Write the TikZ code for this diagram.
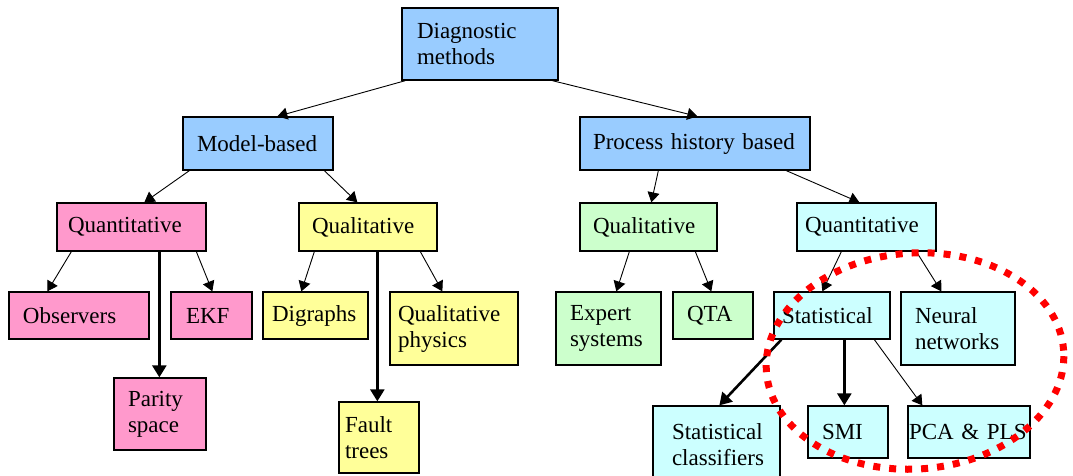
\documentclass[tikz,border=0pt]{standalone}
\usepackage{fontspec}
\setmainfont{Liberation Serif}
\usetikzlibrary{arrows.meta}

\definecolor{cblue}{RGB}{153,204,255}
\definecolor{cpink}{RGB}{255,153,204}
\definecolor{cyellow}{RGB}{255,255,153}
\definecolor{cgreen}{RGB}{204,255,204}
\definecolor{ccyan}{RGB}{204,255,255}

% box: name, x1, y1, x2, y2, fill, left padding, text
\newcommand\mybox[8]{%
  \pgfmathsetmacro\bw{#4-#2}%
  \pgfmathsetmacro\bh{#5-#3}%
  \pgfmathsetmacro\tw{#4-#2-2*#7}%
  \node[box, fill=#6, minimum width=\bw pt, minimum height=\bh pt,
        inner xsep=#7pt, text width=\tw pt] (#1) at ({(#2+#4)/2},{(#3+#5)/2}) {#8};}

\begin{document}
\begin{tikzpicture}[x=1pt, y=-1pt,
  box/.style={draw=black, line width=1.3pt, inner ysep=0pt, align=left,
    font=\fontsize{23}{26}\selectfont},
  arr/.style={line width=0.9pt, -{Triangle[width=12pt,length=10pt]}},
  thick arr/.style={line width=2.6pt, -{Triangle[width=14pt,length=12pt]}},
  redring/.style={draw=red, line width=7pt, dash pattern=on 7pt off 9pt}]
\useasboundingbox (0,0) rectangle (1073,475);

% top levels
\mybox{dm}{402}{8}{558}{80}{cblue}{15}{Diagnostic\\methods}
\mybox{mb}{183}{117}{333}{170}{cblue}{14}{Model-based}
\mybox{ph}{580}{117}{810}{170}{cblue}{13}{Process history based}

% third level
\mybox{qn1}{57}{203}{206}{251}{cpink}{11}{Quantitative}
\mybox{ql1}{299}{203}{437}{251}{cyellow}{13}{Qualitative}
\mybox{ql2}{580}{203}{717}{251}{cgreen}{13}{Qualitative}
\mybox{qn2}{797}{203}{936}{251}{ccyan}{8}{Quantitative}

% leaves, model-based
\mybox{obs}{9}{292}{149}{339}{cpink}{14}{Observers}
\mybox{ekf}{171}{292}{252}{339}{cpink}{15}{EKF}
\mybox{par}{114}{378}{206}{450}{cpink}{14}{Parity\\space}
\mybox{dig}{263}{292}{368}{339}{cyellow}{9}{Digraphs}
\mybox{qph}{390}{292}{518}{365}{cyellow}{8}{Qualitative\\physics}
\mybox{flt}{339}{402}{419}{473}{cyellow}{6}{Fault\\trees}

% leaves, process history based
\mybox{exp}{556}{292}{661}{365}{cgreen}{14}{Expert\\systems}
\mybox{qta}{673}{292}{753}{339}{cgreen}{14}{QTA}
\mybox{sta}{774}{292}{890}{339}{ccyan}{8}{Statistical}
\mybox{nn}{901}{292}{1015}{365}{ccyan}{14}{Neural\\networks}
\mybox{scl}{653}{406}{780}{484}{ccyan}{19}{Statistical\\classifiers}
\mybox{smi}{808}{406}{888}{458}{ccyan}{14}{SMI}
\mybox{pca}{908}{406}{1030}{458}{ccyan}{1}{PCA \& PLS}

% connectors
\draw[arr] ([xshift=4pt]dm.south west) -- ([xshift=95pt]mb.north west);
\draw[arr] ([xshift=151pt]dm.south west) -- ([xshift=118pt]ph.north west);
\draw[arr] ([xshift=7pt]mb.south west) -- ([xshift=88pt]qn1.north west);
\draw[arr] ([xshift=142pt]mb.south west) -- ([xshift=59pt]ql1.north west);
\draw[arr] ([xshift=79pt]ph.south west) -- ([xshift=72pt]ql2.north west);
\draw[arr] ([xshift=207pt]ph.south west) -- ([xshift=63pt]qn2.north west);

\draw[arr] ([xshift=15pt]qn1.south west) -- ([xshift=39pt]obs.north west);
\draw[thick arr] ([xshift=103pt]qn1.south west) -- ([xshift=46pt]par.north west);
\draw[arr] ([xshift=140pt]qn1.south west) -- ([xshift=42pt]ekf.north west);
\draw[arr] ([xshift=16pt]ql1.south west) -- ([xshift=39pt]dig.north west);
\draw[thick arr] ([xshift=79pt]ql1.south west) -- ([xshift=39pt]flt.north west);
\draw[arr] ([xshift=122pt]ql1.south west) -- ([xshift=53pt]qph.north west);

\draw[arr] ([xshift=50pt]ql2.south west) -- ([xshift=61pt]exp.north west);
\draw[arr] ([xshift=116pt]ql2.south west) -- ([xshift=39pt]qta.north west);
\draw[arr] ([xshift=45pt]qn2.south west) -- ([xshift=49pt]sta.north west);
\draw[arr] ([xshift=120pt]qn2.south west) -- ([xshift=41pt]nn.north west);

\draw[thick arr] ([xshift=8pt]sta.south west) -- ([xshift=67pt]scl.north west);
\draw[thick arr] ([xshift=71pt]sta.south west) -- ([xshift=37pt]smi.north west);
\draw[arr] ([xshift=101pt]sta.south west) -- ([xshift=15pt]pca.north west);

% dotted ring round the statistical methods
\draw[redring] (915,361) ellipse [x radius=149pt, y radius=108pt, rotate=4];
\end{tikzpicture}
\end{document}
